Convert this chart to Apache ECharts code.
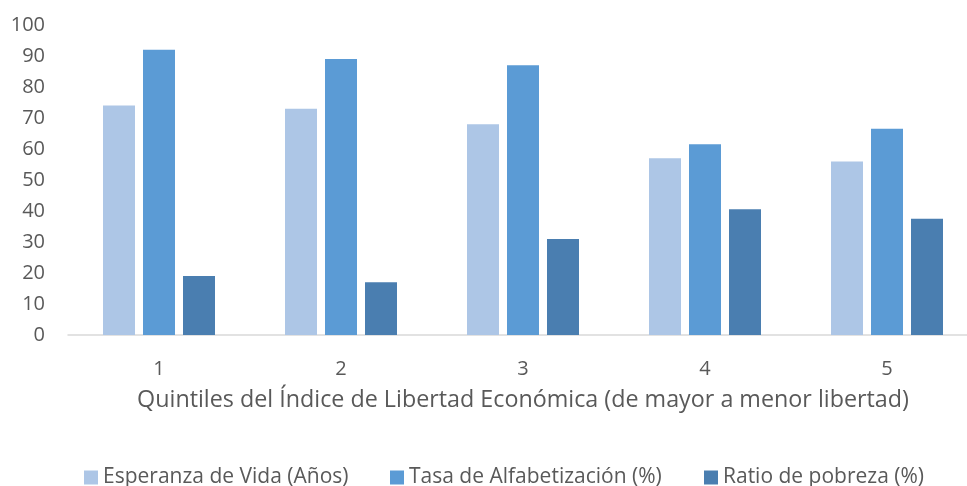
<!DOCTYPE html>
<html>
<head>
<meta charset="utf-8">
<title>Quintiles del Índice de Libertad Económica</title>
<script src="https://cdn.jsdelivr.net/npm/echarts@6/dist/echarts.min.js"></script>
<style>
	html, body { margin: 0; padding: 0; background: #fff; }
	#chart { width: 967px; height: 486px; }
</style>
</head>
<body>
<div id="chart"></div>
<script>
	// datos
	const quintiles = ['1', '2', '3', '4', '5'];
	const esperanzaVida = [74, 73, 68, 57, 56];
	const alfabetizacion = [92, 89, 87, 61.5, 66.5];
	const pobreza = [19, 17, 31, 40.6, 37.5];
	const nombres = ['Esperanza de Vida (Años)', 'Tasa de Alfabetización (%)', 'Ratio de pobreza (%)'];
	const colores = ['#ADC6E6', '#5B9BD5', '#4A7EB0'];

	const fuente = 'Open Sans';
	const gris = '#595959';

	// una leyenda por serie para poder ubicarlas como en el original
	const leyendaX = [84, 390, 704];
	const legend = nombres.map((n, i) => ({
		data: [n],
		left: leyendaX[i],
		top: 467,
		padding: 0,
		itemWidth: 14,
		itemHeight: 14,
		icon: 'rect',
		textStyle: { color: gris, fontSize: 21, fontFamily: fuente }
	}));

	const myChart = echarts.init(document.getElementById('chart'));
	myChart.setOption({
		animation: false,
		// el área del gráfico se sale un poco por la derecha, como en el original
		grid: { left: 68, width: 910, top: 25, bottom: 151, outerBoundsMode: 'none' },
		legend: legend,
		xAxis: {
			type: 'category',
			data: quintiles,
			name: 'Quintiles del Índice de Libertad Económica (de mayor a menor libertad)',
			nameLocation: 'middle',
			nameGap: 54,
			nameTextStyle: { color: gris, fontSize: 23.3, fontFamily: fuente },
			axisLine: { lineStyle: { color: '#D9D9D9', width: 1.5 } },
			axisTick: { show: false },
			axisLabel: { color: gris, fontSize: 20, fontFamily: fuente, margin: 24 }
		},
		yAxis: {
			type: 'value',
			min: 0,
			max: 100,
			interval: 10,
			splitLine: { show: false },
			axisLine: { show: false },
			axisLabel: { color: gris, fontSize: 20, fontFamily: fuente, margin: 23 }
		},
		series: [
			{ name: nombres[0], type: 'bar', data: esperanzaVida, barWidth: 32, barGap: '25%', itemStyle: { color: colores[0] } },
			{ name: nombres[1], type: 'bar', data: alfabetizacion, barWidth: 32, barGap: '25%', itemStyle: { color: colores[1] } },
			{ name: nombres[2], type: 'bar', data: pobreza, barWidth: 32, barGap: '25%', itemStyle: { color: colores[2] } }
		]
	});
</script>
</body>
</html>
